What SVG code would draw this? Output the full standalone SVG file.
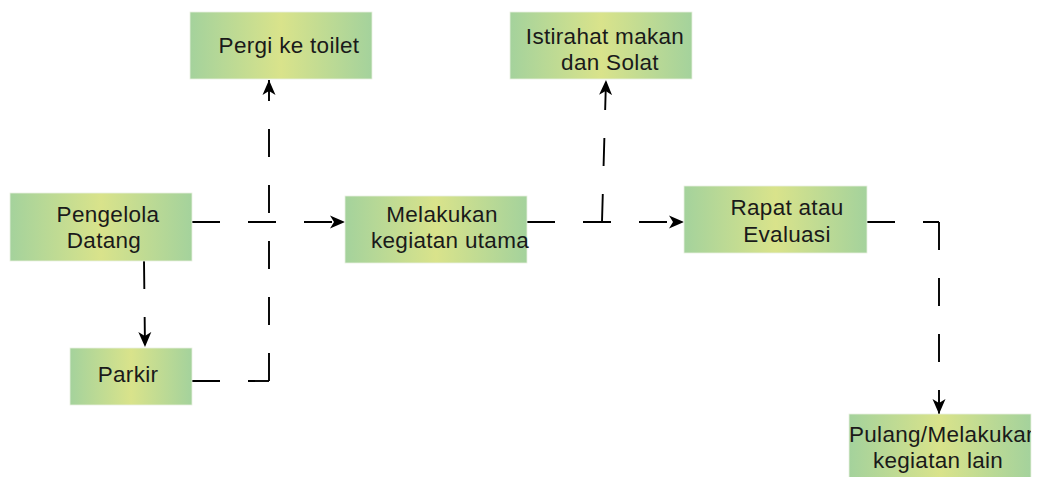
<svg xmlns="http://www.w3.org/2000/svg" width="1039" height="477" viewBox="0 0 1039 477">
<style>
.box{fill:url(#g);stroke:#e8f0e0;stroke-width:0.8}
.t{font-family:"Liberation Sans",Arial,sans-serif;font-size:22.5px;letter-spacing:0.3px;fill:#1a1a1a;text-anchor:middle}
.c{fill:none;stroke:#000;stroke-width:1.9;stroke-dasharray:28 28}
</style>
<defs>
<linearGradient id="g" x1="0" y1="0" x2="1" y2="0">
<stop offset="0" stop-color="#a4d29c"/>
<stop offset="0.5" stop-color="#d9e38b"/>
<stop offset="1" stop-color="#a4d29c"/>
</linearGradient>
<marker id="a" markerWidth="16" markerHeight="14" refX="15" refY="7" orient="auto" markerUnits="userSpaceOnUse">
<path d="M0,0.5 L15,7 L0,13.5 L4,7 z" fill="#000"/>
</marker>
<clipPath id="cp"><rect x="849" y="414" width="182" height="67"/></clipPath>
</defs>
<rect width="1039" height="477" fill="#fff"/>
<g id="connectors">
<path class="c" d="M192,222 H345" marker-end="url(#a)"/>
<path class="c" d="M144,261 L145,347" marker-end="url(#a)"/>
<path class="c" d="M192,381 H269"/>
<path class="c" d="M269,381 V80" marker-end="url(#a)"/>
<path class="c" d="M527,222 H684" marker-end="url(#a)"/>
<path class="c" d="M602,222 L606,80" marker-end="url(#a)"/>
<path class="c" d="M867,222 H939"/>
<path class="c" d="M939,222 V414" marker-end="url(#a)"/>
</g>
<g id="pengelola">
<rect class="box" x="10" y="193" width="182" height="68"/>
<text class="t" x="108" y="222">Pengelola</text>
<text class="t" x="104" y="248">Datang</text>
</g>
<g id="parkir">
<rect class="box" x="70" y="348" width="122" height="57"/>
<text class="t" x="128" y="382">Parkir</text>
</g>
<g id="toilet">
<rect class="box" x="190" y="12" width="182" height="67"/>
<text class="t" x="289" y="53">Pergi ke toilet</text>
</g>
<g id="istirahat">
<rect class="box" x="510" y="12" width="182" height="67"/>
<text class="t" x="605" y="44">Istirahat makan</text>
<text class="t" x="610" y="70">dan Solat</text>
</g>
<g id="melakukan">
<rect class="box" x="345" y="196" width="182" height="67"/>
<text class="t" x="442" y="222">Melakukan</text>
<text class="t" x="450" y="248">kegiatan utama</text>
</g>
<g id="rapat">
<rect class="box" x="684" y="186" width="183" height="67"/>
<text class="t" x="787" y="215">Rapat atau</text>
<text class="t" x="787" y="242">Evaluasi</text>
</g>
<g id="pulang">
<rect class="box" x="849" y="414" width="182" height="67"/>
<g clip-path="url(#cp)">
<text class="t" x="849" y="442" style="text-anchor:start">Pulang/Melakukan</text>
<text class="t" x="938" y="468">kegiatan lain</text>
</g>
</g>
</svg>
